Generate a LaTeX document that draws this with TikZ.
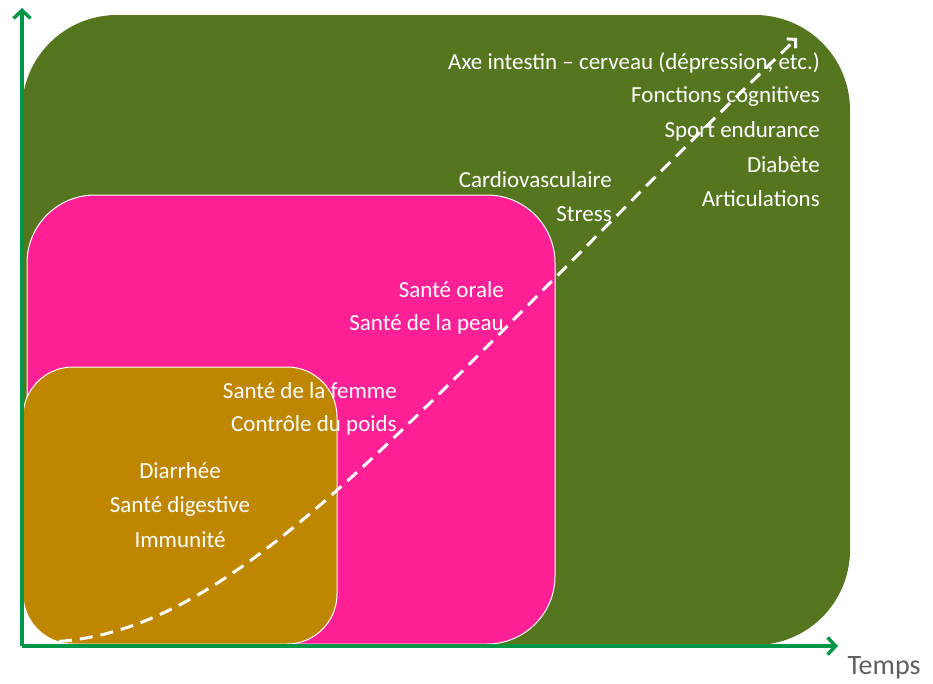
\documentclass[tikz,border=0pt]{standalone}
\usepackage{fontspec}
\setmainfont{Carlito}
\usetikzlibrary{arrows.meta}

\definecolor{olivezone}{RGB}{85,118,30}
\definecolor{pinkzone}{RGB}{255,32,150}
\definecolor{ochrezone}{RGB}{191,134,0}
\definecolor{axisgreen}{RGB}{0,150,70}
\definecolor{tempsgray}{RGB}{95,95,95}

\begin{document}
\begin{tikzpicture}[x=1pt,y=-1pt,
  zone/.style={draw=white,line width=1pt},
  axis/.style={draw=axisgreen,line width=3.5pt,-{Straight Barb[length=8pt,width=17pt]}},
  lbl/.style={text=white,font=\fontsize{23}{27}\selectfont,inner sep=0pt}]
  \useasboundingbox (0,0) rectangle (933,683);

  % Nested zones
  \fill[olivezone,rounded corners=95pt] (22,15) rectangle (850,645);
  \filldraw[zone,fill=pinkzone,rounded corners=68pt] (27,195) rectangle (555,644);
  \filldraw[zone,fill=ochrezone,rounded corners=50pt] (23,367) rectangle (337,644);

  % Axes
  \coordinate (origin) at (22,646);
  \coordinate (ytop) at (22,8);
  \coordinate (xend) at (838,646);
  \draw[axis] (origin) -- (ytop);
  \draw[axis] (origin) -- (xend);
  \node[text=tempsgray,font=\fontsize{28}{32}\selectfont,inner sep=0pt] (temps) at (884,668) {Temps};

  % Trend
  \coordinate (tstart) at (38,642);
  \coordinate (tend) at (797,38);
  \draw[white,line width=3pt,dash pattern=on 13pt off 8pt,-{Straight Barb[length=6pt,width=13pt]}]
    (tstart) .. controls (240,644) and (410,410) .. (tend);

  % Labels, outer zone
  \node[lbl,anchor=east] (axe) at (820,63) {Axe intestin -- cerveau (dépression, etc.)};
  \node[lbl,anchor=east] (cogn) at (820,97) {Fonctions cognitives};
  \node[lbl,anchor=east] (sport) at (820,131) {Sport endurance};
  \node[lbl,anchor=east] (diab) at (820,165) {Diabète};
  \node[lbl,anchor=east] (artic) at (820,199) {Articulations};
  \node[lbl,anchor=east] (cardio) at (612,180) {Cardiovasculaire};
  \node[lbl,anchor=east] (stress) at (612,214) {Stress};

  % Labels, middle zone
  \node[lbl,anchor=east] (orale) at (504,290) {Santé orale};
  \node[lbl,anchor=east] (peau) at (504,324) {Santé de la peau};
  \node[lbl,anchor=east] (femme) at (397,391) {Santé de la femme};
  \node[lbl,anchor=east] (poids) at (397,425) {Contrôle du poids};

  % Labels, inner zone
  \node[lbl] (diarr) at (180,471) {Diarrhée};
  \node[lbl] (digest) at (180,506) {Santé digestive};
  \node[lbl] (immun) at (180,540) {Immunité};
\end{tikzpicture}
\end{document}
